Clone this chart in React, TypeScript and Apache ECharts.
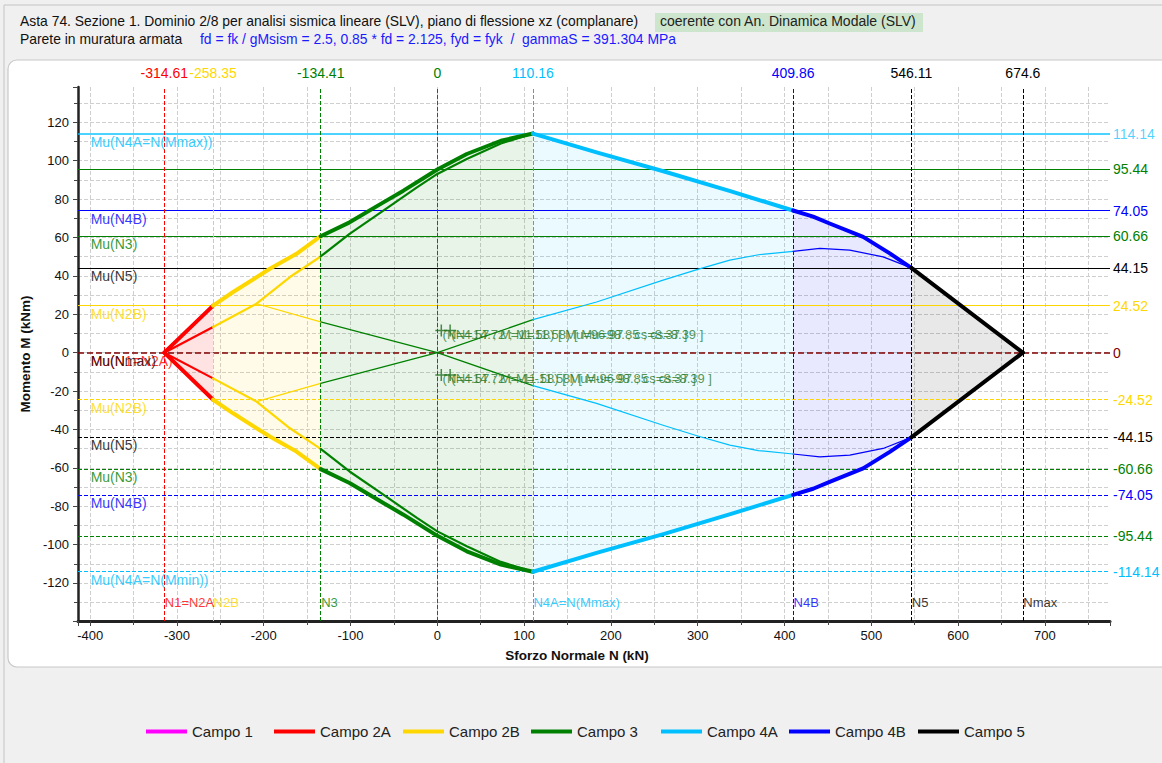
import React, { useEffect, useRef } from "react";
import * as echarts from "echarts";

const FONT = "'Liberation Sans', Arial, sans-serif";

// ---- data ----
const campoNames = ["Campo 1", "Campo 2A", "Campo 2B", "Campo 3", "Campo 4A", "Campo 4B", "Campo 5"];
const campoColors = ["#ff00ff", "#ff0000", "#ffd700", "#008000", "#00bfff", "#0000ff", "#000000"];
const campoFills = [
  "rgba(255,0,255,0.08)",
  "rgba(255,0,0,0.11)",
  "rgba(255,215,0,0.09)",
  "rgba(0,128,0,0.09)",
  "rgba(0,191,255,0.08)",
  "rgba(0,0,255,0.09)",
  "rgba(0,0,0,0.09)",
];
const fieldBounds = [-314.61, -258.35, -134.41, 110.16, 409.86, 546.11, 674.6];

// outer (ultimate) domain
const outerTopN = [-314.61, -258.35, -235.3, -193, -162.3, -134.41, -101.1, -62.2, -39.1, 0, 33.9, 73.2, 110.16, 184.5, 261.4, 338.5, 409.86, 433, 452, 490.6, 521.3, 546.11, 674.6];
const outerTopM = [0, 24.52, 31.6, 43.7, 51.5, 60.66, 67.9, 78.3, 84.4, 95.44, 103.5, 110.4, 114.14, 104.2, 94.4, 84.0, 74.05, 70.9, 67.3, 60.3, 51.7, 44.15, 0];
const outerBotN = [-314.61, -258.35, -235.3, -193, -162.3, -134.41, -101.1, -62.2, -39.1, 0, 33.9, 73.2, 110.16, 184.5, 261.4, 338.5, 409.86, 433, 452, 490.6, 521.3, 546.11, 674.6];
const outerBotM = [0, -24.52, -31.6, -43.7, -51.5, -60.66, -67.9, -78.3, -84.4, -95.44, -103.5, -110.4, -114.14, -104.2, -94.4, -84.0, -74.05, -70.9, -67.3, -60.3, -51.7, -44.15, 0];

// inner curve
const innerTopN = [-314.61, -258.35, -208.3, -169.8, -134.41, -101.1, -62.2, -23.5, 0, 33.9, 73.2, 110.16];
const innerTopM = [0, 13.4, 25.5, 39.4, 50.1, 61.9, 74.0, 86.1, 93.1, 100.9, 109, 114.14];
const innerBotN = [-314.61, -258.35, -208.3, -169.8, -134.41, -101.1, -62.2, -23.5, 0, 33.9, 73.2, 110.16];
const innerBotM = [0, -13.4, -25.5, -39.4, -50.1, -61.9, -74.0, -86.1, -93.1, -100.9, -109, -114.14];

// thin crossing curves
const thinAN = [-208.3, -134.41, 0, 110.16, 183.4, 260.1, 300, 337, 370, 409.86, 440.7, 475.2, 513.6, 546.11];
const thinAM = [25.5, 16, 0, -17.2, -26.4, -37.8, -43.4, -48.2, -51.0, -52.8, -54.3, -53.4, -49.9, -44.15];
const thinBN = [-208.3, -134.41, 0, 110.16, 183.4, 260.1, 300, 337, 370, 409.86, 440.7, 475.2, 513.6, 546.11];
const thinBM = [-25.5, -16, 0, 17.2, 26.4, 37.8, 43.4, 48.2, 51.0, 52.8, 54.3, 53.4, 49.9, 44.15];

// vertical reference lines
const vLineN = [-314.61, -258.35, -134.41, 0, 110.16, 409.86, 546.11, 674.6];
const vLineLabels = ["-314.61", "-258.35", "-134.41", "0", "110.16", "409.86", "546.11", "674.6"];
const vLineNames = ["N1=N2A", "N2B", "N3", "", "N4A=N(Mmax)", "N4B", "N5", "Nmax"];
const vLineColors = ["#ff0000", "#ffd700", "#008000", "#008000", "#00bfff", "#0000ff", "#000000", "#000000"];

// horizontal reference lines
const hLineM = [114.14, 95.44, 74.05, 60.66, 44.15, 24.52, 0, -24.52, -44.15, -60.66, -74.05, -95.44, -114.14];
const hLineLabels = ["114.14", "95.44", "74.05", "60.66", "44.15", "24.52", "0", "-24.52", "-44.15", "-60.66", "-74.05", "-95.44", "-114.14"];
const hLineNames = ["Mu(N4A=N(Mmax))", "", "Mu(N4B)", "Mu(N3)", "Mu(N5)", "Mu(N2B)", "Mu(Nmax)", "Mu(N2B)", "Mu(N5)", "Mu(N3)", "Mu(N4B)", "", "Mu(N4A=N(Mmin))"];
const hLineColors = ["#00bfff", "#008000", "#0000ff", "#008000", "#000000", "#ffd700", "#800000", "#ffd700", "#000000", "#008000", "#0000ff", "#008000", "#00bfff"];

// verification points
const pointN = [4.57, 14.72, 4.57, 14.72];
const pointM = [11.58, 11.58, -11.58, -11.58];
const pointLabels = [
  "(N=4.57 ; M=11.58) [ Mu=96.97 ; cs=8.37 ]",
  "(N=14.72 ; M=11.58) [ Mu=98.85 ; cs=8.39 ]",
  "(N=4.57 ; M=-11.58) [ Mu=-96.97 ; cs=8.37 ]",
  "(N=14.72 ; M=-11.58) [ Mu=-98.85 ; cs=8.39 ]",
];

const legendLeft = [141, 269, 398, 526, 656, 784, 913];

const xMin = -414;
const xMax = 775;
const yMin = -139.8;
const yMax = 138.4;

function seg(N: number[], M: number[], f: number): number[][] {
  if (f < 1) return [];
  const lo = fieldBounds[f - 1];
  const hi = fieldBounds[f];
  const pts: number[][] = [];
  for (let i = 0; i < N.length; i++) {
    if (N[i] >= lo - 1e-6 && N[i] <= hi + 1e-6) pts.push([N[i], M[i]]);
  }
  return pts;
}

function buildOption(): any {
  const series: any[] = [];

  // legend series (empty)
  campoNames.forEach((name, i) => {
    series.push({
      type: "line",
      name,
      data: [],
      symbol: "none",
      itemStyle: { color: campoColors[i] },
      lineStyle: { color: campoColors[i], width: 4 },
    });
  });

  // fills
  for (let f = 1; f < campoNames.length; f++) {
    const top = seg(outerTopN, outerTopM, f);
    const bot = seg(outerBotN, outerBotM, f).reverse();
    const poly = top.concat(bot);
    const fill = campoFills[f];
    series.push({
      type: "custom",
      name: "fill" + f,
      silent: true,
      z: 1,
      data: poly,
      encode: { x: 0, y: 1 },
      renderItem: (params: any, api: any) => {
        if (params.dataIndex !== 0) return { type: "group", children: [] };
        const points = poly.map((p) => api.coord(p));
        return { type: "polygon", shape: { points }, style: { fill } };
      },
    });
  }

  // reference lines holder
  const markData: any[] = [];
  hLineM.forEach((m, i) => {
    const top = m > 0;
    markData.push({
      yAxis: m,
      lineStyle: {
        color: hLineColors[i],
        type: top ? "solid" : "dashed",
        width: i === 0 ? 2 : m === 0 ? 1.5 : 1,
        opacity: i === 0 ? 0.7 : 1,
      },
      label: {
        show: true,
        position: "end",
        distance: 3,
        formatter: hLineLabels[i],
        color: hLineColors[i],
        fontSize: 14,
        fontFamily: FONT,
      },
    });
  });
  vLineN.forEach((n, i) => {
    markData.push({
      xAxis: n,
      lineStyle: { color: vLineColors[i], type: "dashed", width: 1 },
      label: {
        show: true,
        position: "end",
        distance: 7,
        formatter: vLineLabels[i],
        color: vLineColors[i],
        fontSize: 14,
        fontFamily: FONT,
      },
    });
  });
  series.push({
    type: "line",
    name: "refs",
    data: [[0, 0]],
    symbol: "none",
    lineStyle: { width: 0 },
    z: 3,
    silent: true,
    markLine: {
      silent: true,
      symbol: ["none", "none"],
      animation: false,
      data: markData,
    },
  });

  // curves
  const curves: { N: number[]; M: number[]; w: number }[] = [
    { N: thinAN, M: thinAM, w: 1.2 },
    { N: thinBN, M: thinBM, w: 1.2 },
    { N: innerTopN, M: innerTopM, w: 2.2 },
    { N: innerBotN, M: innerBotM, w: 2.2 },
    { N: outerTopN, M: outerTopM, w: 4 },
    { N: outerBotN, M: outerBotM, w: 4 },
  ];
  curves.forEach((c) => {
    for (let f = 1; f < campoNames.length; f++) {
      const pts = seg(c.N, c.M, f);
      if (pts.length < 2) continue;
      series.push({
        type: "line",
        name: campoNames[f],
        data: pts,
        symbol: "none",
        showSymbol: false,
        silent: true,
        z: 5,
        itemStyle: { color: campoColors[f] },
        lineStyle: { color: campoColors[f], width: c.w, cap: "round", join: "round" },
      });
    }
  });

  // annotation texts: Mu labels (left)
  const muData: any[] = [];
  muData.push({ value: [-400, 0], name: "Mu(N1=N2A)", label: { color: "#ff0000" } });
  hLineM.forEach((m, i) => {
    if (!hLineNames[i]) return;
    muData.push({
      value: [-400, m],
      name: hLineNames[i],
      label: { color: hLineColors[i] === "#800000" ? "#200000" : hLineColors[i] },
    });
  });
  series.push({
    type: "scatter",
    name: "annMu",
    silent: true,
    symbol: "rect",
    symbolSize: 1,
    itemStyle: { color: "rgba(0,0,0,0)" },
    z: 6,
    data: muData,
    label: {
      show: true,
      position: [1, 1.5],
      formatter: (p: any) => p.name,
      fontSize: 14,
      fontFamily: FONT,
    },
  });

  // annotation texts: N labels (bottom)
  const nData: any[] = [];
  vLineN.forEach((n, i) => {
    if (!vLineNames[i]) return;
    nData.push({ value: [n, -126.5], name: vLineNames[i], label: { color: vLineColors[i] } });
  });
  series.push({
    type: "scatter",
    name: "annN",
    silent: true,
    symbol: "rect",
    symbolSize: 1,
    itemStyle: { color: "rgba(0,0,0,0)" },
    z: 6,
    data: nData,
    label: {
      show: true,
      position: [1, 1.5],
      formatter: (p: any) => p.name,
      fontSize: 13,
      fontFamily: FONT,
    },
  });

  // verification points
  series.push({
    type: "scatter",
    name: "pts",
    silent: true,
    symbol: "path://M6,0 L6,12 M0,6 L12,6",
    symbolSize: 12,
    itemStyle: { color: "rgba(0,0,0,0)", borderColor: "#1e6e1e", borderWidth: 1.5 },
    z: 7,
    data: pointN.map((n, i) => ({ value: [n, pointM[i]], name: pointLabels[i] })),
    label: {
      show: true,
      position: [8, 4],
      formatter: (p: any) => p.name,
      color: "#2a7a2a",
      fontSize: 13,
      fontFamily: FONT,
    },
  });

  const headerStyle = { fill: "#111", fontSize: 13.9, fontFamily: FONT };

  return {
    animation: false,
    backgroundColor: "#f0f0f0",
    textStyle: { fontFamily: FONT },
    graphic: [
      {
        type: "rect",
        z: -20,
        shape: { x: 4, y: 5, width: 1200, height: 800 },
        style: { fill: "#f0f0f0", stroke: "#c4c4c4", lineWidth: 1 },
        silent: true,
      },
      {
        type: "rect",
        z: -10,
        shape: { x: 8, y: 60, width: 1200, height: 607, r: 9 },
        style: { fill: "#ffffff", stroke: "#c8c8c8", lineWidth: 1.2 },
        silent: true,
      },
      {
        type: "rect",
        z: -5,
        shape: { x: 655, y: 13, width: 268, height: 19 },
        style: { fill: "#cce5cc" },
        silent: true,
      },
      {
        type: "text",
        left: 20,
        top: 14,
        style: {
          ...headerStyle,
          text: "Asta 74. Sezione 1. Dominio 2/8 per analisi sismica lineare (SLV), piano di flessione xz (complanare)",
        },
      },
      {
        type: "text",
        left: 660,
        top: 14,
        style: { ...headerStyle, fill: "#222", fontSize: 14, text: "coerente con An. Dinamica Modale (SLV)" },
      },
      {
        type: "text",
        left: 20,
        top: 32,
        style: { ...headerStyle, text: "Parete in muratura armata" },
      },
      {
        type: "text",
        left: 200,
        top: 32,
        style: {
          ...headerStyle,
          fill: "#1a1aff",
          text: "fd = fk / gMsism = 2.5, 0.85 * fd = 2.125, fyd = fyk  /  gammaS = 391.304 MPa",
        },
      },
    ],
    legend: campoNames.map((name, i) => ({
      data: [name],
      left: legendLeft[i],
      top: 719,
      icon: "rect",
      itemWidth: 41,
      itemHeight: 4,
      itemGap: 0,
      selectedMode: false,
      textStyle: { fontSize: 15, color: "#222", fontFamily: FONT },
    })),
    grid: { left: 78, right: 52, top: 87, bottom: 142 },
    xAxis: {
      type: "value",
      min: xMin,
      max: xMax,
      splitNumber: 12,
      name: "Sforzo Normale N (kN)",
      nameLocation: "middle",
      nameGap: 27,
      nameTextStyle: { fontSize: 13.5, fontWeight: "bold", color: "#111", padding: [0, 34, 0, 0] },
      axisLine: { onZero: false, lineStyle: { color: "#222", width: 3 } },
      axisTick: { show: true, length: 5, lineStyle: { color: "#444" } },
      minorTick: { show: true, splitNumber: 2, length: 4, lineStyle: { color: "#444" } },
      axisLabel: { fontSize: 13, color: "#111", margin: 8, showMinLabel: false, showMaxLabel: false },
      splitLine: { show: true, showMinLine: false, showMaxLine: false, lineStyle: { color: "#cfcfcf", type: "dashed" } },
      minorSplitLine: { show: true, lineStyle: { color: "#cfcfcf", type: "dashed" } },
    },
    yAxis: {
      type: "value",
      min: yMin,
      max: yMax,
      splitNumber: 14,
      name: "Momento M (kNm)",
      nameLocation: "middle",
      nameGap: 45,
      nameTextStyle: { fontSize: 13.5, fontWeight: "bold", color: "#111" },
      axisLine: { onZero: false, lineStyle: { color: "#222", width: 2.5 } },
      axisTick: { show: true, length: 5, lineStyle: { color: "#444" } },
      minorTick: { show: true, splitNumber: 2, length: 4, lineStyle: { color: "#444" } },
      axisLabel: { fontSize: 13, color: "#111", margin: 9, showMinLabel: false, showMaxLabel: false },
      splitLine: { show: true, showMinLine: false, showMaxLine: false, lineStyle: { color: "#cfcfcf", type: "dashed" } },
      minorSplitLine: { show: true, lineStyle: { color: "#cfcfcf", type: "dashed" } },
    },
    series,
  };
}

export default function App() {
  const ref = useRef<HTMLDivElement>(null);
  useEffect(() => {
    if (!ref.current) return;
    const chart = echarts.init(ref.current, null, { renderer: "svg" });
    chart.setOption(buildOption());
    return () => chart.dispose();
  }, []);
  return (
    <div style={{ position: "fixed", left: 0, top: 0, width: 1162, height: 763, background: "#f0f0f0" }}>
      <div ref={ref} style={{ width: 1162, height: 763 }} />
    </div>
  );
}
